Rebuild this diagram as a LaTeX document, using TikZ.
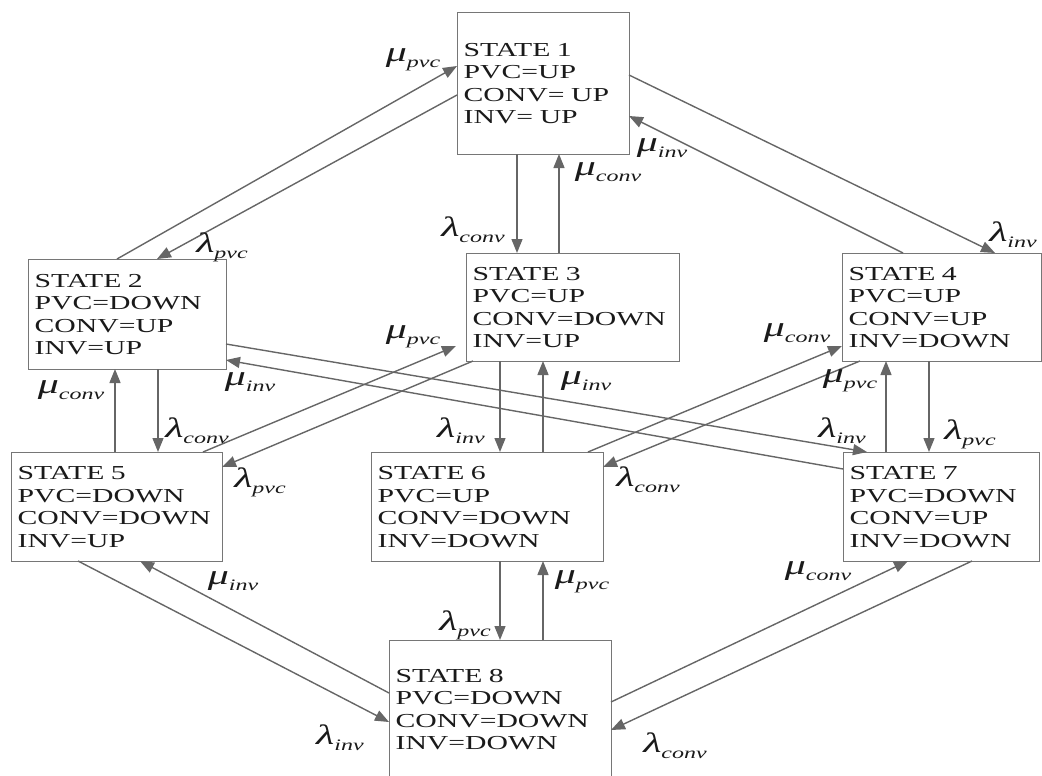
\documentclass[tikz,border=0pt]{standalone}
\usepackage{fontspec}
\setmainfont[FakeStretch=1.5]{Liberation Serif}
\usetikzlibrary{arrows.meta}
\definecolor{boxgray}{HTML}{767676}
\definecolor{linegray}{HTML}{666666}
\definecolor{txt}{HTML}{1A1A1A}
\newcommand\trate[2]{{\fontsize{28}{28}\selectfont\itshape #1}\raisebox{-6pt}{\fontsize{16}{16}\selectfont\itshape #2}}
\tikzset{
  box/.style={draw=boxgray, line width=1.3pt, fill=white, anchor=north west, align=left,
    inner xsep=6pt, inner ysep=0pt, text=txt, font=\fontsize{19.8}{22.6}\selectfont},
  tr/.style={draw=linegray, line width=1.4pt, -{Triangle[length=14pt,width=11pt]}},
  lab/.style={inner sep=0pt, text=txt}
}
\begin{document}
\begin{tikzpicture}[x=1pt,y=-1pt]
\useasboundingbox (0,0) rectangle (1042,776);
% states
\node[box, minimum width=172pt, minimum height=142pt, text width=160pt] (s1) at (457,12) {STATE 1\\PVC=UP\\CONV= UP\\INV= UP};
\node[box, minimum width=198pt, minimum height=110pt, text width=186pt] (s2) at (28,259) {STATE 2\\PVC=DOWN\\CONV=UP\\INV=UP};
\node[box, minimum width=213pt, minimum height=108pt, text width=201pt] (s3) at (466,253) {STATE 3\\PVC=UP\\CONV=DOWN\\INV=UP};
\node[box, minimum width=199pt, minimum height=108pt, text width=187pt] (s4) at (842,253) {STATE 4\\PVC=UP\\CONV=UP\\INV=DOWN};
\node[box, minimum width=211pt, minimum height=109pt, text width=199pt] (s5) at (11,452) {STATE 5\\PVC=DOWN\\CONV=DOWN\\INV=UP};
\node[box, minimum width=232pt, minimum height=109pt, text width=220pt] (s6) at (371,452) {STATE 6\\PVC=UP\\CONV=DOWN\\INV=DOWN};
\node[box, minimum width=196pt, minimum height=109pt, text width=184pt] (s7) at (843,452) {STATE 7\\PVC=DOWN\\CONV=UP\\INV=DOWN};
\node[box, minimum width=222pt, minimum height=138pt, text width=210pt] (s8) at (389,640) {STATE 8\\PVC=DOWN\\CONV=DOWN\\INV=DOWN};
% transitions
\draw[tr] ([shift={(89,0)}]s2.north west) -- ([shift={(0,54)}]s1.north west);
\draw[tr] ([shift={(0,83)}]s1.north west) -- ([shift={(129,0)}]s2.north west);
\draw[tr] ([shift={(60,142)}]s1.north west) -- ([shift={(51,0)}]s3.north west);
\draw[tr] ([shift={(93,0)}]s3.north west) -- ([shift={(102,142)}]s1.north west);
\draw[tr] ([shift={(172,63)}]s1.north west) -- ([shift={(153,0)}]s4.north west);
\draw[tr] ([shift={(61,0)}]s4.north west) -- ([shift={(172,104)}]s1.north west);
\draw[tr] ([shift={(130,110)}]s2.north west) -- ([shift={(147,0)}]s5.north west);
\draw[tr] ([shift={(104,0)}]s5.north west) -- ([shift={(87,110)}]s2.north west);
\draw[tr] ([shift={(192,0)}]s5.north west) -- ([shift={(-10,93)}]s3.north west);
\draw[tr] ([shift={(7,108)}]s3.north west) -- ([shift={(211,15)}]s5.north west);
\draw[tr] ([shift={(198,85)}]s2.north west) -- ([shift={(24,0)}]s7.north west);
\draw[tr] ([shift={(0,17)}]s7.north west) -- ([shift={(198,101)}]s2.north west);
\draw[tr] ([shift={(34,108)}]s3.north west) -- ([shift={(129,0)}]s6.north west);
\draw[tr] ([shift={(172,0)}]s6.north west) -- ([shift={(77,108)}]s3.north west);
\draw[tr] ([shift={(217,0)}]s6.north west) -- ([shift={(0,93)}]s4.north west);
\draw[tr] ([shift={(18,108)}]s4.north west) -- ([shift={(232,15)}]s6.north west);
\draw[tr] ([shift={(43,0)}]s7.north west) -- ([shift={(44,108)}]s4.north west);
\draw[tr] ([shift={(87,108)}]s4.north west) -- ([shift={(86,0)}]s7.north west);
\draw[tr] ([shift={(129,109)}]s6.north west) -- ([shift={(111,0)}]s8.north west);
\draw[tr] ([shift={(154,0)}]s8.north west) -- ([shift={(172,109)}]s6.north west);
\draw[tr] ([shift={(67,109)}]s5.north west) -- ([shift={(0,82)}]s8.north west);
\draw[tr] ([shift={(0,53)}]s8.north west) -- ([shift={(129,109)}]s5.north west);
\draw[tr] ([shift={(222,62)}]s8.north west) -- ([shift={(65,109)}]s7.north west);
\draw[tr] ([shift={(129,109)}]s7.north west) -- ([shift={(222,90)}]s8.north west);
% labels
\node[lab] (l1) at (413,60) {\trate{μ}{pvc}};
\node[lab] (l2) at (222,247) {\trate{λ}{pvc}};
\node[lab] (l3) at (473,230) {\trate{λ}{conv}};
\node[lab] (l4) at (608,172) {\trate{μ}{conv}};
\node[lab] (l5) at (1013,235) {\trate{λ}{inv}};
\node[lab] (l6) at (662,148) {\trate{μ}{inv}};
\node[lab] (l7) at (197,431) {\trate{λ}{conv}};
\node[lab] (l8) at (71,390) {\trate{μ}{conv}};
\node[lab] (l9) at (413,337) {\trate{μ}{pvc}};
\node[lab] (l10) at (260,482) {\trate{λ}{pvc}};
\node[lab] (l11) at (842,431) {\trate{λ}{inv}};
\node[lab] (l12) at (250,382) {\trate{μ}{inv}};
\node[lab] (l13) at (461,431) {\trate{λ}{inv}};
\node[lab] (l14) at (586,381) {\trate{μ}{inv}};
\node[lab] (l15) at (797,333) {\trate{μ}{conv}};
\node[lab] (l16) at (648,480) {\trate{λ}{conv}};
\node[lab] (l17) at (850,381) {\trate{μ}{pvc}};
\node[lab] (l18) at (970,434) {\trate{λ}{pvc}};
\node[lab] (l19) at (465,625) {\trate{λ}{pvc}};
\node[lab] (l20) at (582,582) {\trate{μ}{pvc}};
\node[lab] (l21) at (340,738) {\trate{λ}{inv}};
\node[lab] (l22) at (233,581) {\trate{μ}{inv}};
\node[lab] (l23) at (818,571) {\trate{μ}{conv}};
\node[lab] (l24) at (675,746) {\trate{λ}{conv}};
\end{tikzpicture}
\end{document}
